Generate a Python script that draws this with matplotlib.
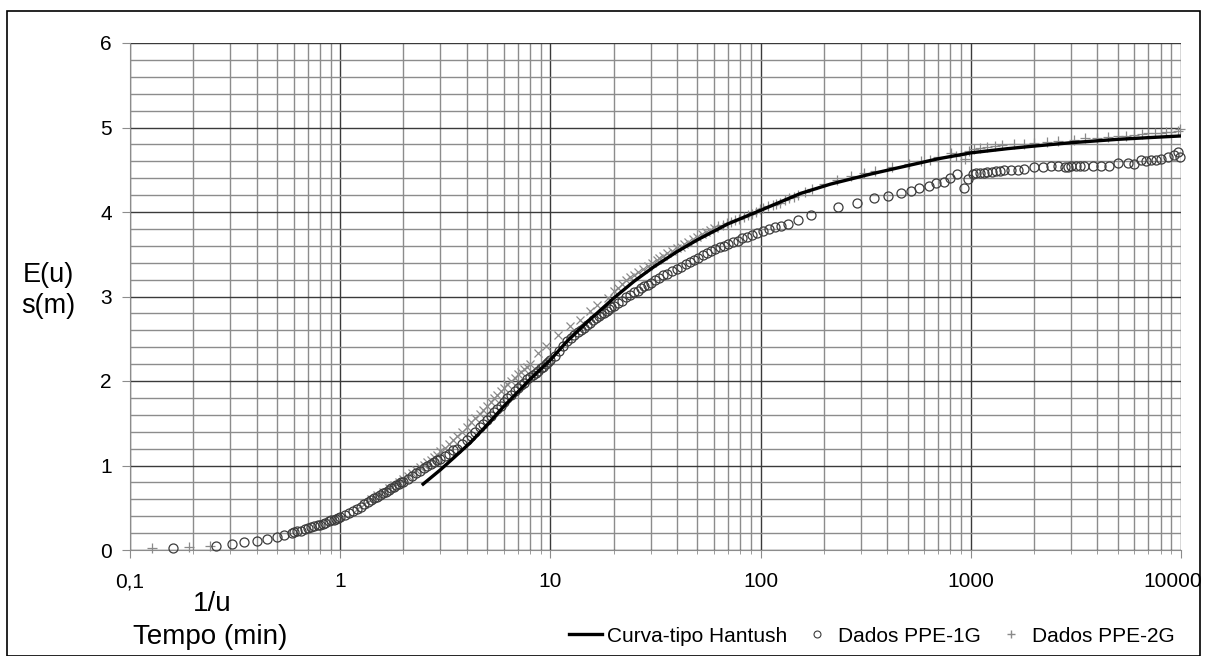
import matplotlib
matplotlib.use("Agg")
from matplotlib import pyplot as plt
from matplotlib.ticker import FixedLocator, LogLocator, NullFormatter
from matplotlib.lines import Line2D
from matplotlib.transforms import ScaledTranslation
import matplotlib.patches as patches

plt.rcParams['font.family'] = ['Liberation Sans', 'DejaVu Sans']

# curva-tipo Hantush
hant_x = [2.48, 3, 3.5, 4.16, 5, 6, 7, 8, 10, 12, 15, 20, 25, 31, 40, 50, 70, 100, 155, 215,
          335, 464, 700, 1000, 1500, 2000, 3000, 5000, 7000, 10000]
hant_y = [0.78, 0.95, 1.1, 1.27, 1.48, 1.7, 1.87, 2.02, 2.25, 2.47, 2.7, 2.98, 3.18, 3.35, 3.53, 3.67, 3.86, 4.02, 4.22, 4.33,
          4.45, 4.53, 4.63, 4.70, 4.75, 4.78, 4.82, 4.86, 4.88, 4.90]

# dados PPE-1G
ppe1_x = [0.16, 0.257, 0.306, 0.35, 0.40, 0.45, 0.50, 0.54, 0.59,
          0.6, 0.62, 0.65, 0.68, 0.7, 0.73, 0.75, 0.78, 0.8, 0.83, 0.85, 0.88, 0.9, 0.93, 0.95, 0.98,
          1.0, 1.05, 1.1, 1.15, 1.2, 1.25, 1.3, 1.35, 1.4, 1.45, 1.5, 1.55, 1.6, 1.65, 1.7, 1.75,
          1.8, 1.85, 1.9, 1.95, 2.0, 2.1, 2.2, 2.3, 2.4, 2.5, 2.6, 2.7, 2.8, 2.9, 3.0, 3.15, 3.3,
          3.45, 3.6, 3.8, 4.0, 4.2, 4.4, 4.6, 4.8, 5.0, 5.2, 5.4, 5.6, 5.8, 6.0, 6.25, 6.5, 6.75,
          7.0, 7.25, 7.5, 7.75, 8.0, 8.25, 8.5, 8.75, 9.0, 9.25, 9.5, 9.75, 10, 10.5, 11, 11.5,
          12, 12.5, 13, 13.5, 14, 14.5, 15, 15.5, 16, 16.5, 17, 17.5, 18, 18.5, 19, 19.5, 20, 21,
          22, 23, 24, 25, 26, 27, 28, 29, 30, 31.5, 33, 34.5, 36, 38, 40, 42, 44, 46, 48, 50.5,
          53, 55.5, 58, 61, 64, 67, 70, 74, 78, 82, 86, 91, 96, 103, 110, 117, 125, 135, 150,
          173, 233, 287, 345, 403, 464, 518, 566, 631, 681, 743, 794, 858, 926,
          968, 1023, 1060, 1100, 1150, 1200, 1260, 1320, 1380, 1436, 1550, 1675, 1800, 1995,
          2200, 2404, 2600, 2800, 2897, 3000, 3162, 3300, 3451, 3811, 4159, 4539, 5012, 5598,
          5976, 6457, 6800, 7197, 7600, 8035, 8669, 9261, 9677, 9900]
ppe1_y = [0.02, 0.05, 0.07, 0.09, 0.11, 0.13, 0.155, 0.18, 0.2,
          0.21, 0.22, 0.23, 0.25, 0.26, 0.27, 0.28, 0.29, 0.3, 0.31, 0.32, 0.34, 0.35, 0.36, 0.37, 0.38,
          0.39, 0.41, 0.44, 0.46, 0.48, 0.51, 0.54, 0.57, 0.59, 0.61, 0.63, 0.65, 0.67, 0.69, 0.71, 0.73,
          0.75, 0.77, 0.78, 0.8, 0.81, 0.84, 0.87, 0.91, 0.94, 0.97, 0.99, 1.02, 1.04, 1.06, 1.08, 1.11, 1.14,
          1.18, 1.2, 1.25, 1.3, 1.35, 1.4, 1.45, 1.49, 1.54, 1.58, 1.63, 1.67, 1.71, 1.75, 1.8, 1.84, 1.88,
          1.92, 1.95, 1.98, 2.02, 2.05, 2.07, 2.1, 2.12, 2.15, 2.17, 2.2, 2.22, 2.25, 2.3, 2.36, 2.42,
          2.47, 2.51, 2.55, 2.58, 2.6, 2.63, 2.66, 2.69, 2.72, 2.75, 2.77, 2.79, 2.8, 2.83, 2.85, 2.87, 2.89, 2.92,
          2.95, 2.99, 3.02, 3.05, 3.07, 3.1, 3.12, 3.14, 3.16, 3.19, 3.22, 3.25, 3.27, 3.3, 3.32, 3.35, 3.38, 3.41, 3.43, 3.46,
          3.49, 3.52, 3.54, 3.56, 3.58, 3.6, 3.62, 3.64, 3.66, 3.69, 3.71, 3.73, 3.75, 3.78, 3.8, 3.82, 3.84, 3.86, 3.9,
          3.96, 4.06, 4.11, 4.17, 4.19, 4.22, 4.25, 4.28, 4.31, 4.34, 4.36, 4.4, 4.45, 4.28,
          4.39, 4.45, 4.46, 4.46, 4.46, 4.47, 4.47, 4.48, 4.49, 4.5, 4.5, 4.5, 4.51, 4.53,
          4.53, 4.54, 4.54, 4.53, 4.53, 4.54, 4.55, 4.54, 4.54, 4.55, 4.55, 4.55, 4.58, 4.58,
          4.57, 4.61, 4.6, 4.62, 4.62, 4.63, 4.65, 4.67, 4.71, 4.65]

# dados PPE-2G
ppe2_x = [0.127, 0.191, 0.24,
          1.2, 1.3, 1.4, 1.5, 1.6, 1.7, 1.8, 1.9, 2.0, 2.1, 2.2, 2.3, 2.4, 2.5, 2.6, 2.7, 2.8, 2.9,
          3.0, 3.15, 3.3, 3.45, 3.6, 3.8, 4.0, 4.2, 4.4, 4.6, 4.8, 5.0, 5.2, 5.4, 5.6, 5.8, 6.0,
          6.25, 6.5, 6.75, 7.0, 7.25, 7.5, 7.75, 8.0, 8.7, 9.5, 10.9, 12.4, 13.9, 15.5, 16.7, 18.7,
          20, 21, 22, 23, 24, 25, 26, 27.5, 29, 30.5, 32, 33, 34.5, 36, 38, 40, 41.6, 43, 45, 47.5,
          50, 52.5, 55, 57.5, 60, 63, 66, 69, 72, 75.5, 79, 83, 87, 91, 95, 99, 103, 108, 114, 119,
          124, 130, 137, 144, 151, 163, 175, 200, 230, 270, 310, 349, 420, 507, 580, 638, 700, 803,
          850, 900, 940, 980, 1040, 1100, 1200, 1300, 1400, 1600, 1800, 2000, 2300, 2600, 3090,
          3500, 4000, 4500, 5000, 5500, 5976, 6500, 7000, 7500, 8000, 8500, 9000, 9677, 9900]
ppe2_y = [0.02, 0.03, 0.05,
          0.49, 0.55, 0.6, 0.65, 0.69, 0.73, 0.77, 0.81, 0.84, 0.88, 0.91, 0.95, 0.98, 1.01, 1.04, 1.07, 1.1, 1.13,
          1.17, 1.21, 1.26, 1.3, 1.35, 1.4, 1.46, 1.51, 1.56, 1.61, 1.66, 1.7, 1.75, 1.8, 1.84, 1.88, 1.92,
          1.96, 2.0, 2.04, 2.08, 2.11, 2.14, 2.17, 2.2, 2.33, 2.42, 2.55, 2.65, 2.72, 2.83, 2.9, 2.98,
          3.06, 3.1, 3.15, 3.19, 3.23, 3.26, 3.29, 3.33, 3.36, 3.4, 3.43, 3.45, 3.48, 3.51, 3.54, 3.57, 3.59, 3.62, 3.65, 3.68,
          3.71, 3.74, 3.76, 3.79, 3.81, 3.83, 3.85, 3.87, 3.88, 3.9, 3.92, 3.94, 3.96, 3.98, 4.0, 4.03, 4.05, 4.07, 4.08, 4.1,
          4.11, 4.14, 4.16, 4.18, 4.2, 4.24, 4.27, 4.33, 4.38, 4.43, 4.46, 4.48, 4.53, 4.57, 4.6, 4.62, 4.65, 4.70,
          4.66, 4.68, 4.63, 4.72, 4.75, 4.76, 4.77, 4.78, 4.79, 4.80, 4.81, 4.82, 4.83, 4.84, 4.85,
          4.87, 4.88, 4.89, 4.9, 4.9, 4.91, 4.92, 4.93, 4.93, 4.94, 4.95, 4.95, 4.96, 4.98]

x_ticks = [0.1, 1, 10, 100, 1000, 10000]
x_labels = ['0,1', '1', '10', '100', '1000', '10000']
y_ticks = [0, 1, 2, 3, 4, 5, 6]

fig = plt.figure(figsize=(12.07, 6.56), dpi=100)
ax = fig.add_axes([130/1207, 106/656, 1051/1207, 507/656])

ax.set_xscale('log')
ax.set_xlim(0.1, 10000)
ax.set_ylim(0, 6)

# grade tipo Excel
ax.xaxis.set_major_locator(FixedLocator(x_ticks))
ax.xaxis.set_minor_locator(LogLocator(base=10, subs=range(2, 10)))
ax.xaxis.set_minor_formatter(NullFormatter())
ax.set_xticklabels(x_labels)
ax.yaxis.set_major_locator(FixedLocator(y_ticks))
ax.yaxis.set_minor_locator(FixedLocator([i * 0.2 for i in range(31)]))
ax.grid(which='major', color='#3a3a3a', linewidth=1.0)
ax.grid(which='minor', color='#8c8c8c', linewidth=1.0)
ax.set_axisbelow(True)

for s in ['top', 'right']:
    ax.spines[s].set_visible(False)
for s in ['left', 'bottom']:
    ax.spines[s].set_color('#8c8c8c')

ax.tick_params(axis='both', which='major', labelsize=15, color='#8c8c8c', length=6, pad=7)
ax.tick_params(axis='x', which='major', pad=10)
ax.tick_params(axis='y', which='minor', length=0)
ax.tick_params(axis='x', which='minor', color='#8c8c8c', length=3)

# "10000" fica colado na borda: empurra um pouco para a esquerda
last = ax.get_xticklabels()[-1]
last.set_transform(last.get_transform() + ScaledTranslation(-6/72, 0, fig.dpi_scale_trans))

# PPE-2G: marcas "+" (no trecho íngreme aparecem como "x" na figura original)
mid = [i for i in range(len(ppe2_x)) if 1.2 <= ppe2_x[i] <= 60]
ends = [i for i in range(len(ppe2_x)) if i not in mid]
ax.plot([ppe2_x[i] for i in ends], [ppe2_y[i] for i in ends], linestyle='none', marker='+',
        markersize=7, markeredgewidth=0.9, color='#8a8a8a', clip_on=False, zorder=3)
ax.plot([ppe2_x[i] for i in mid], [ppe2_y[i] for i in mid], linestyle='none', marker='x',
        markersize=5.5, markeredgewidth=0.9, color='#8a8a8a', clip_on=False, zorder=3)
ax.plot(ppe1_x, ppe1_y, linestyle='none', marker='o', markersize=6.5, markerfacecolor='none',
        markeredgecolor='#3c3c3c', markeredgewidth=0.9, clip_on=False, zorder=4)
ax.plot(hant_x, hant_y, color='black', linewidth=2.4, zorder=5)

# rótulos dos eixos
fig.text(48/1207, 1 - 275/656, 'E(u)', fontsize=19.5, ha='center', va='center')
fig.text(48/1207, 1 - 306/656, 's(m)', fontsize=19.5, ha='center', va='center')
fig.text(212/1207, 1 - 604/656, '1/u', fontsize=20, ha='center', va='center')
fig.text(210/1207, 1 - 637/656, 'Tempo (min)', fontsize=20, ha='center', va='center')

handles = [
    Line2D([], [], color='black', linewidth=2.4),
    Line2D([], [], linestyle='none', marker='o', markersize=5, markerfacecolor='none',
           markeredgecolor='#3c3c3c', markeredgewidth=0.8),
    Line2D([], [], linestyle='none', marker='+', markersize=6, color='#8a8a8a'),
]
fig.legend(handles, ['Curva-tipo Hantush', 'Dados PPE-1G', 'Dados PPE-2G'],
           loc='center', bbox_to_anchor=(872/1207, 1 - 636/656), ncol=3, frameon=False,
           fontsize=15, handlelength=1.55, handletextpad=0.25, columnspacing=0.65)

fig.add_artist(patches.Rectangle((7/1207, 0), 1193/1207, 645/656, transform=fig.transFigure,
                                 fill=False, edgecolor='black', linewidth=1.2))

fig.savefig('out.png', dpi=100)
